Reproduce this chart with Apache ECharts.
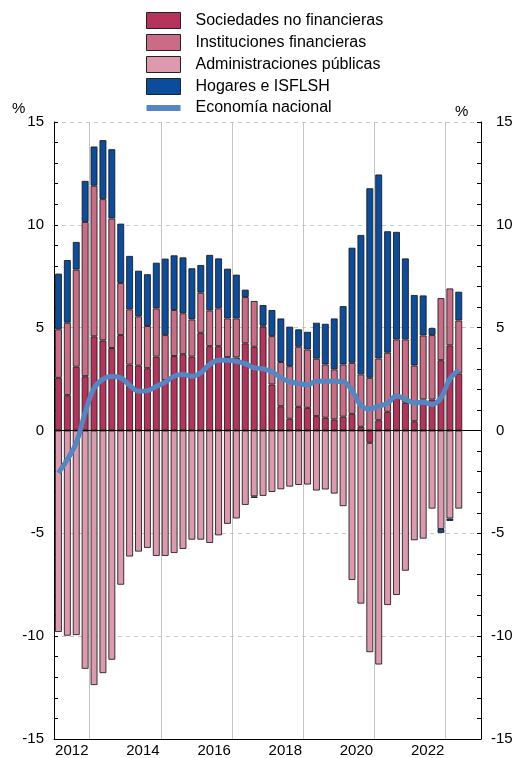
<!DOCTYPE html>
<html>
<head>
<meta charset="utf-8">
<script src="https://cdn.jsdelivr.net/npm/echarts@6/dist/echarts.min.js"></script>
<style>
  html, body { margin: 0; padding: 0; background: #fff; }
  #chart { width: 516px; height: 758px; }
</style>
</head>
<body>
<div id="chart"></div>
<script>
// ── Data (quarterly, 2012 T1 – 2023 T2) ──────────────────────────────────────
var years = ['2012', '2013', '2014', '2015', '2016', '2017', '2018', '2019', '2020', '2021', '2022', '2023'];

var sociedades = [2.56, 1.72, 3.10, 2.64, 4.58, 4.38, 4.01, 4.64, 3.2, 3.15,
  3.03, 3.59, 2.45, 3.62, 3.71, 3.59, 4.75, 4.1, 4.1, 3.57,
  3.55, 4.24, 4.07, 5.05, 2.24, 1.18, 0.57, 1.15, 1.1, 0.7,
  0.62, 0.54, 0.67, 0.81, 0.18, -0.6, 0.5, 0.91, 1.7, 1.35,
  0.45, 1.51, 1.5, 3.42, 4.14, 2.77];

var instituciones = [2.36, 3.52, 4.72, 7.5, 7.32, 6.87, 6.3, 2.53, 2.69, 2.4,
  2.05, 2.35, 2.19, 2.24, 1.99, 1.81, 1.95, 1.74, 1.84, 1.88,
  1.9, 2.25, 2.23, 0.06, 2.35, 2.15, 2.56, 2.92, 2.84, 2.79,
  2.59, 2.43, 2.54, 2.48, 2.55, 2.56, 3.0, 2.87, 2.73, 3.08,
  2.71, 3.11, 3.14, 3.02, 2.77, 2.58];

var administraciones = [-9.8, -9.98, -9.95, -11.59, -12.38, -11.8, -11.15, -7.5, -6.13, -5.89,
  -5.71, -6.1, -6.1, -5.96, -5.76, -5.31, -5.31, -5.47, -5.1, -4.54,
  -4.28, -3.62, -3.2, -3.18, -2.99, -2.86, -2.73, -2.65, -2.63, -2.92,
  -2.87, -3.07, -3.68, -7.27, -8.42, -10.18, -11.38, -8.49, -8.0, -6.82,
  -5.34, -5.26, -3.8, -4.79, -4.28, -3.8];

var hogares = [2.71, 3.05, 1.35, 2.0, 1.91, 2.87, 3.37, 2.89, 2.6, 2.22,
  2.52, 2.22, 3.72, 2.66, 2.72, 2.49, 1.35, 2.7, 2.43, 2.42,
  2.13, 0.36, -0.08, 0.99, 1.27, 2.12, 1.92, 0.85, 0.86, 1.75,
  1.98, 2.48, 2.84, 5.6, 6.78, 9.22, 8.95, 5.91, 5.23, 3.94,
  3.43, 1.95, 0.34, -0.19, -0.12, 1.4];

var economia = [-2.06, -1.41, -0.6, 0.86, 2.05, 2.5, 2.62, 2.56, 2.2, 1.91,
  1.94, 2.14, 2.35, 2.64, 2.72, 2.64, 2.81, 3.21, 3.42, 3.42,
  3.37, 3.25, 3.05, 3.0, 2.86, 2.56, 2.37, 2.29, 2.22, 2.4,
  2.4, 2.4, 2.37, 1.95, 1.22, 1.05, 1.18, 1.33, 1.68, 1.52,
  1.35, 1.37, 1.27, 1.59, 2.5, 2.95];

var names = ['Sociedades no financieras', 'Instituciones financieras',
  'Administraciones públicas', 'Hogares e ISFLSH', 'Economía nacional'];

// quarter categories for the bars
var quarters = [];
years.forEach(function(y) {
  for (var q = 1; q <= 4; q++) quarters.push(y + '-T' + q);
});

// ── Styles ───────────────────────────────────────────────────────────────────
var FONT = "'Liberation Sans', Arial, sans-serif";
var COL = {
  soc: '#b6335c',
  inst: '#cb6c87',
  adm: '#dd9aae',
  hog: '#0c4c9c',
  line: '#5486c4',
  grid: '#c4c4c4'
};
var BAR_BORDER = 'rgba(25,25,25,0.85)';

function barSeries(name, data, color) {
  return {
    name: name,
    type: 'bar',
    stack: 'total',
    barWidth: 7,
    xAxisIndex: 0,
    yAxisIndex: 0,
    itemStyle: { color: color, borderColor: BAR_BORDER, borderWidth: 1 },
    emphasis: { disabled: true },
    data: data
  };
}

var chart = echarts.init(document.getElementById('chart'), null, { renderer: 'canvas' });

chart.setOption({
  animation: false,
  backgroundColor: '#fff',
  textStyle: { fontFamily: FONT },
  grid: { left: 54, right: 35, top: 122, bottom: 18 },
  legend: {
    orient: 'vertical',
    left: 146,
    top: 12,
    padding: 0,
    itemWidth: 34,
    itemHeight: 16,
    itemGap: 5,
    selectedMode: false,
    itemStyle: { borderColor: '#222', borderWidth: 1 },
    textStyle: { fontFamily: FONT, fontSize: 16, color: '#000', padding: [0, 0, 0, 10] },
    data: [
      { name: names[0], icon: 'rect' },
      { name: names[1], icon: 'rect' },
      { name: names[2], icon: 'rect' },
      { name: names[3], icon: 'rect' },
      { name: names[4], icon: 'path://M0,0L34,0L34,6L0,6Z', symbolKeepAspect: true,
        itemStyle: { borderWidth: 0 } }
    ]
  },
  graphic: [
    { type: 'text', left: 12, top: 101, style: { text: '%', font: '15px ' + FONT, fill: '#000' } },
    { type: 'text', left: 455, top: 104, style: { text: '%', font: '15px ' + FONT, fill: '#000' } }
  ],
  xAxis: [
    {
      // quarterly axis carrying the bars (not drawn)
      type: 'category',
      data: quarters,
      position: 'top',
      show: false
    },
    {
      // yearly axis: ticks, labels, vertical grid
      type: 'category',
      data: years,
      position: 'bottom',
      axisLine: { onZero: false, lineStyle: { color: '#000', width: 1 } },
      axisTick: { inside: true, length: 4, lineStyle: { color: '#000' } },
      axisLabel: { interval: 1, margin: 4, fontSize: 15, color: '#000', fontFamily: FONT },
      splitLine: {
        show: true,
        interval: function(i) { return i % 2 === 1; },
        lineStyle: { color: COL.grid, width: 1 }
      }
    }
  ],
  yAxis: [
    {
      type: 'value',
      position: 'left',
      min: -15, max: 15, interval: 5,
      axisLine: { show: true, onZero: false, lineStyle: { color: '#000' } },
      axisTick: { show: true, inside: true, length: 4, lineStyle: { color: '#000' } },
      minorTick: { show: true, splitNumber: 5, length: 4, lineStyle: { color: '#000' } },
      axisLabel: { margin: 10, fontSize: 15, color: '#000', fontFamily: FONT },
      splitLine: { show: true, lineStyle: { color: '#c8c8c8', type: [4, 4] } }
    },
    {
      type: 'value',
      position: 'right',
      min: -15, max: 15, interval: 5,
      axisLine: { show: true, onZero: false, lineStyle: { color: '#000' } },
      axisTick: { show: true, inside: true, length: 4, lineStyle: { color: '#000' } },
      minorTick: { show: true, splitNumber: 5, length: 4, lineStyle: { color: '#000' } },
      axisLabel: {
        margin: 10,
        fontSize: 15,
        color: '#000',
        fontFamily: FONT,
        formatter: function(v) {
          return '{s|' + (v < 0 ? '-' : ' ') + '}{n|' + Math.abs(v) + '}';
        },
        rich: {
          s: { width: 5, align: 'left', fontSize: 15, fontFamily: FONT, color: '#000' },
          n: { fontSize: 15, fontFamily: FONT, color: '#000' }
        }
      },
      splitLine: { show: false }
    }
  ],
  series: [
    barSeries(names[0], sociedades, COL.soc),
    barSeries(names[1], instituciones, COL.inst),
    barSeries(names[2], administraciones, COL.adm),
    Object.assign(barSeries(names[3], hogares, COL.hog), {
      markLine: {
        silent: true,
        symbol: 'none',
        z: 5,
        label: { show: false },
        lineStyle: { color: '#000', width: 1, type: 'solid' },
        data: [{ yAxis: 0 }]
      }
    }),
    {
      name: names[4],
      type: 'line',
      xAxisIndex: 0,
      yAxisIndex: 0,
      z: 10,
      smooth: 0.4,
      symbol: 'none',
      itemStyle: { color: COL.line },
      lineStyle: { color: COL.line, width: 5 },
      emphasis: { disabled: true },
      data: economia
    }
  ]
});
</script>
</body>
</html>
